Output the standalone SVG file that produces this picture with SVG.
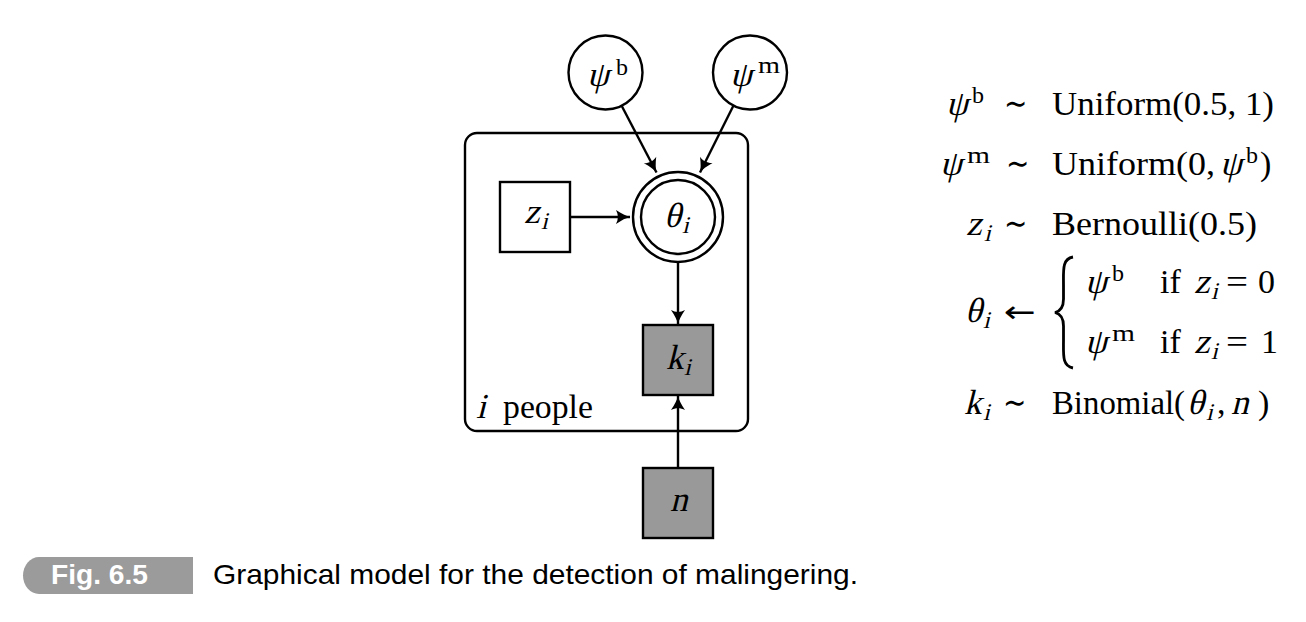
<svg xmlns="http://www.w3.org/2000/svg" width="1306" height="622" viewBox="0 0 1306 622">
<style>
.ln{stroke:#000;stroke-width:2.4;fill:none}
.nd{stroke:#000;stroke-width:2.4;fill:#fff}
.obs{stroke:#000;stroke-width:2.4;fill:#999}
.m{font-family:"Liberation Serif",serif;font-size:35px;fill:#000}
.r{font-family:"Liberation Serif",serif;font-size:34px;fill:#000}
.sup{font-family:"Liberation Serif",serif;font-size:24px;fill:#000}
.sub{font-family:"Liberation Serif",serif;font-size:24px;fill:#000}
.cap{font-family:"Liberation Sans",sans-serif;font-size:28px;fill:#000}
</style>
<defs>
<marker id="ah" viewBox="-15 -8 16 16" refX="0" refY="0" markerWidth="16" markerHeight="16" markerUnits="userSpaceOnUse" orient="auto">
<path d="M-14,-7 C-8.5,-3.2 -3.5,-0.8 0,0 C-3.5,0.8 -8.5,3.2 -14,7 C-11.5,2.5 -11.5,-2.5 -14,-7 Z" fill="#000"/>
</marker>
</defs>

<g id="plate">
<rect x="465" y="133" width="283" height="298" rx="12" ry="12" class="ln" stroke-width="2.8"/>
<text class="m" transform="translate(476,418) skewX(-14)">i</text>
<text x="503" y="418" class="r" textLength="90" lengthAdjust="spacingAndGlyphs">people</text>
</g>

<g id="psi_b">
<circle cx="605.5" cy="72.5" r="37" class="nd"/>
<text class="m" transform="translate(587,86) skewX(-14)">ψ</text>
<text x="616" y="75" class="sup">b</text>
</g>

<g id="psi_m">
<circle cx="750" cy="72.5" r="37" class="nd"/>
<text class="m" transform="translate(730,86) skewX(-14)">ψ</text>
<text x="758" y="73" class="sup" textLength="22" lengthAdjust="spacingAndGlyphs">m</text>
</g>

<g id="theta">
<circle cx="678" cy="217" r="45" class="nd"/>
<circle cx="678" cy="217" r="37" class="nd"/>
<text class="m" transform="translate(664,227) skewX(-14)">θ</text>
<text class="sub" transform="translate(682,233) skewX(-14)">i</text>
</g>

<g id="z">
<rect x="500" y="182" width="70" height="70" class="nd"/>
<text class="m" transform="translate(524,223) skewX(-14)">z</text>
<text class="sub" transform="translate(541,229) skewX(-14)">i</text>
</g>

<g id="k">
<rect x="643" y="325" width="70" height="70" class="obs"/>
<text class="m" transform="translate(666,369) skewX(-14)">k</text>
<text class="sub" transform="translate(684,375) skewX(-14)">i</text>
</g>

<g id="n">
<rect x="643" y="468" width="70" height="70" class="obs"/>
<text class="m" transform="translate(670,511) skewX(-14)">n</text>
</g>

<g id="connectors">
<line x1="621.5" y1="105.5" x2="656.5" y2="172.5" class="ln" marker-end="url(#ah)"/>
<line x1="733.5" y1="105.5" x2="700" y2="172.5" class="ln" marker-end="url(#ah)"/>
<line x1="570" y1="217" x2="630" y2="217" class="ln" marker-end="url(#ah)"/>
<line x1="678" y1="262" x2="678" y2="324" class="ln" marker-end="url(#ah)"/>
<line x1="678" y1="468" x2="678" y2="396" class="ln" marker-end="url(#ah)"/>
</g>

<g id="equations">
<!-- row 1 -->
<text class="m" transform="translate(946,115) skewX(-14)">ψ</text>
<text x="972" y="103" class="sup">b</text>
<text x="1004" y="115" class="r" textLength="23" lengthAdjust="spacingAndGlyphs">∼</text>
<text x="1052" y="115" class="r" textLength="222" lengthAdjust="spacingAndGlyphs">Uniform(0.5, 1)</text>
<!-- row 2 -->
<text class="m" transform="translate(940,175) skewX(-14)">ψ</text>
<text x="967" y="163" class="sup" textLength="23" lengthAdjust="spacingAndGlyphs">m</text>
<text x="1006" y="175" class="r" textLength="23" lengthAdjust="spacingAndGlyphs">∼</text>
<text x="1052" y="175" class="r" textLength="163" lengthAdjust="spacingAndGlyphs">Uniform(0,</text>
<text class="m" transform="translate(1220,175) skewX(-14)">ψ</text>
<text x="1246" y="163" class="sup">b</text>
<text x="1260" y="175" class="r">)</text>
<!-- row 3 -->
<text class="m" transform="translate(966,235) skewX(-14)">z</text>
<text class="sub" transform="translate(984,241) skewX(-14)">i</text>
<text x="1004" y="235" class="r" textLength="23" lengthAdjust="spacingAndGlyphs">∼</text>
<text x="1052" y="235" class="r" textLength="205" lengthAdjust="spacingAndGlyphs">Bernoulli(0.5)</text>
<!-- row theta -->
<text class="m" transform="translate(965,322) skewX(-14)">θ</text>
<text class="sub" transform="translate(983,328) skewX(-14)">i</text>
<text x="1004" y="322" font-family="DejaVu Sans, sans-serif" font-size="30" textLength="32" lengthAdjust="spacingAndGlyphs" fill="#000">←</text>
<path d="M1073,257 C1062,259 1063.5,270 1063.5,285 L1063.5,299 C1063.5,307 1061,311 1055,312.5 C1061,314 1063.5,318 1063.5,326 L1063.5,340 C1063.5,355 1062,366 1073,368" fill="none" stroke="#000" stroke-width="2.8"/>
<text class="m" transform="translate(1085,293) skewX(-14)">ψ</text>
<text x="1112" y="281" class="sup">b</text>
<text x="1160" y="293" class="r">if</text>
<text class="m" transform="translate(1194,293) skewX(-14)">z</text>
<text class="sub" transform="translate(1211,299) skewX(-14)">i</text>
<text x="1226" y="293" class="r" textLength="22" lengthAdjust="spacingAndGlyphs">=</text>
<text x="1258" y="293" class="r">0</text>
<text class="m" transform="translate(1085,353) skewX(-14)">ψ</text>
<text x="1112" y="341" class="sup" textLength="23" lengthAdjust="spacingAndGlyphs">m</text>
<text x="1160" y="353" class="r">if</text>
<text class="m" transform="translate(1194,353) skewX(-14)">z</text>
<text class="sub" transform="translate(1211,359) skewX(-14)">i</text>
<text x="1226" y="353" class="r" textLength="22" lengthAdjust="spacingAndGlyphs">=</text>
<text x="1261" y="353" class="r">1</text>
<!-- row k -->
<text class="m" transform="translate(964,414) skewX(-14)">k</text>
<text class="sub" transform="translate(983,420) skewX(-14)">i</text>
<text x="1003" y="414" class="r" textLength="23" lengthAdjust="spacingAndGlyphs">∼</text>
<text x="1052" y="414" class="r" textLength="133" lengthAdjust="spacingAndGlyphs">Binomial(</text>
<text class="m" transform="translate(1187,414) skewX(-14)">θ</text>
<text class="sub" transform="translate(1206,420) skewX(-14)">i</text>
<text x="1217" y="414" class="r">,</text>
<text class="m" transform="translate(1231,414) skewX(-14)">n</text>
<text x="1258" y="414" class="r">)</text>
</g>

<g id="caption">
<path d="M39,557 H193 V594 H39 A16,18.5 0 0 1 39,557 Z" fill="#9b9b9b"/>
<text x="51" y="584" font-family="Liberation Sans, sans-serif" font-weight="bold" font-size="27" fill="#fff" textLength="97" lengthAdjust="spacingAndGlyphs">Fig. 6.5</text>
<text x="213" y="584" class="cap" textLength="645" lengthAdjust="spacingAndGlyphs">Graphical model for the detection of malingering.</text>
</g>
</svg>
